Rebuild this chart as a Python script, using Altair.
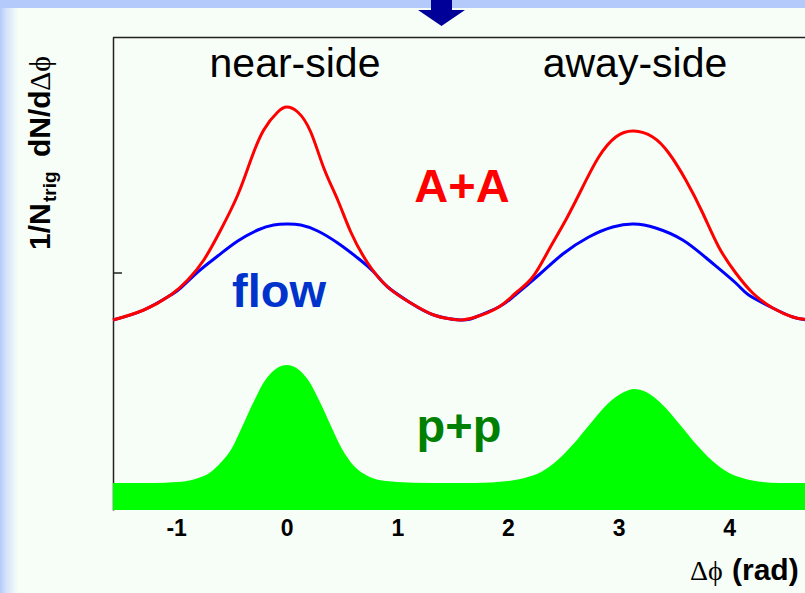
import altair as alt
import pandas as pd

# ---- data ----
red_x = [-1.571, -1.293, -1.049, -0.895, -0.750, -0.597, -0.443, -0.325, -0.208, -0.081, 0.0,
         0.099, 0.217, 0.335, 0.461, 0.579, 0.732, 0.913, 1.121, 1.329, 1.483, 1.571,
         1.709, 1.917, 2.071, 2.224, 2.369, 2.523, 2.676, 2.821, 2.975, 3.137, 3.309,
         3.454, 3.608, 3.761, 3.906, 4.060, 4.213, 4.394, 4.575, 4.665, 4.712]
red_y = [1.90, 2.00, 2.15, 2.30, 2.50, 2.80, 3.15, 3.50, 3.80, 3.98, 4.03,
         3.98, 3.78, 3.42, 3.10, 2.78, 2.47, 2.23, 2.07, 1.95, 1.91, 1.90,
         1.93, 2.03, 2.17, 2.33, 2.60, 2.90, 3.23, 3.53, 3.73, 3.79, 3.73,
         3.57, 3.30, 2.97, 2.63, 2.37, 2.17, 2.02, 1.93, 1.91, 1.90]

blue_x = [-1.571, -1.293, -1.049, -0.958, -0.805, -0.624, -0.443, -0.262, -0.118, 0.0,
          0.127, 0.280, 0.461, 0.642, 0.787, 0.913, 1.121, 1.329, 1.571,
          1.709, 1.917, 2.044, 2.279, 2.496, 2.731, 2.948, 3.137, 3.336, 3.580,
          3.815, 4.060, 4.177, 4.394, 4.575, 4.712]
blue_y = [1.90, 2.00, 2.15, 2.22, 2.38, 2.54, 2.69, 2.80, 2.85, 2.86,
          2.85, 2.79, 2.67, 2.52, 2.38, 2.23, 2.07, 1.95, 1.90,
          1.93, 2.03, 2.13, 2.35, 2.56, 2.73, 2.83, 2.86, 2.82, 2.70,
          2.50, 2.27, 2.15, 2.02, 1.93, 1.90]

pp_x = [-1.571, -1.2, -1.0, -0.9, -0.8, -0.7, -0.6, -0.5, -0.4, -0.3, -0.2, -0.1, 0.0,
        0.1, 0.2, 0.3, 0.4, 0.5, 0.6, 0.7, 0.8, 0.9, 1.0, 1.3, 1.7,
        2.0, 2.15, 2.3, 2.45, 2.6, 2.75, 2.9, 3.05, 3.14, 3.25, 3.4, 3.55, 3.7,
        3.85, 4.0, 4.15, 4.3, 4.45, 4.712]
pp_y = [0.27, 0.27, 0.28, 0.29, 0.32, 0.37, 0.47, 0.61, 0.84, 1.08, 1.29, 1.41, 1.45,
        1.41, 1.29, 1.08, 0.84, 0.61, 0.45, 0.36, 0.31, 0.29, 0.28, 0.27, 0.27,
        0.29, 0.32, 0.38, 0.50, 0.67, 0.87, 1.06, 1.18, 1.21, 1.18, 1.05, 0.86, 0.66,
        0.49, 0.37, 0.31, 0.28, 0.27, 0.27]

x_ticks = [-1, 0, 1, 2, 3, 4]
y_ticks = [2.37]

red_df = pd.DataFrame({"x": red_x, "y": red_y})
blue_df = pd.DataFrame({"x": blue_x, "y": blue_y})
pp_df = pd.DataFrame({"x": pp_x, "y": pp_y})
ytick_df = pd.DataFrame({"y": y_ticks})
one = pd.DataFrame({"k": [0]})

W, H = 692, 473
PANEL = "#F7FEF7"
BAND = "#B3CAFB"

xs = alt.Scale(domain=[-1.5708, 4.686], nice=False, zero=False)
ys = alt.Scale(domain=[0, 4.73], nice=False, zero=False)

xaxis = alt.Axis(values=x_ticks, labelExpr="'' + datum.value", domain=False, ticks=False,
                 grid=False, title=None, labelFont="Liberation Sans", labelFontWeight="bold",
                 labelFontSize=23, labelColor="black", labelPadding=7)
yaxis = alt.Axis(values=y_ticks, domain=True, domainColor="#222222", domainWidth=1.5,
                 ticks=False, labels=False, grid=False, title=None)

# decorations (slide background)
top_band = alt.Chart(one).mark_rect(color=BAND).encode(
    x=alt.value(-113), x2=alt.value(W), y=alt.value(-37), y2=alt.value(-29))
left_band = alt.Chart(one).mark_rect(
    color=alt.Gradient(gradient="linear",
                       stops=[alt.GradientStop(color=BAND, offset=0),
                              alt.GradientStop(color="#D4E2FB", offset=0.35),
                              alt.GradientStop(color=PANEL, offset=1)],
                       x1=0, x2=1, y1=0, y2=0)
).encode(x=alt.value(-113), x2=alt.value(-95), y=alt.value(-29), y2=alt.value(H + 83))

arrow_path = "M-0.447,-0.553 L0.447,-0.553 L0.447,-0.128 L1,-0.128 L0,0.553 L-1,-0.128 L-0.447,-0.128 Z"
arrow = alt.Chart(one).mark_point(shape=arrow_path, size=2209, filled=True, opacity=1,
                                  color="#000099", strokeWidth=0).encode(
    x=alt.value(328.5), y=alt.value(-24))

top_frame = alt.Chart(one).mark_rule(color="#222222", strokeWidth=1.5).encode(
    x=alt.value(0), x2=alt.value(W), y=alt.value(0.5))

ytick = alt.Chart(ytick_df).mark_rule(color="#222222", strokeWidth=1.5).encode(
    y=alt.Y("y:Q", scale=ys, axis=yaxis), x=alt.value(0), x2=alt.value(9))

pp_area = alt.Chart(pp_df).mark_area(color="#00FF00", interpolate="monotone", opacity=1).encode(
    x=alt.X("x:Q", scale=xs, axis=xaxis), y=alt.Y("y:Q", scale=ys, axis=yaxis))
blue_line = alt.Chart(blue_df).mark_line(color="#0000FF", strokeWidth=3, interpolate="natural").encode(
    x=alt.X("x:Q", scale=xs), y=alt.Y("y:Q", scale=ys))
red_line = alt.Chart(red_df).mark_line(color="#FF0000", strokeWidth=3, interpolate="natural").encode(
    x=alt.X("x:Q", scale=xs), y=alt.Y("y:Q", scale=ys))


def txt(s, x, y, size, color="black", weight="normal", font="Liberation Sans",
        align="center", angle=0):
    return alt.Chart(one).mark_text(text=s, font=font, fontSize=size, fontWeight=weight,
                                    color=color, align=align, baseline="alphabetic",
                                    angle=angle).encode(x=alt.value(x), y=alt.value(y))


SERIF = "Liberation Serif"
labels = [
    txt("near-side", 182, 40, 41),
    txt("away-side", 522, 40, 41),
    txt("A+A", 349, 165, 47, "#FF0000", "bold"),
    txt("flow", 166, 270, 47, "#0033CC", "bold"),
    txt("p+p", 346, 405, 47, "#008000", "bold"),
    # y title (rotated, with subscript)
    txt("1/N", -63, 213, 30, "black", "bold", align="left", angle=270),
    txt("trig", -57, 165, 19, "black", "bold", align="left", angle=270),
    txt("dN/d", -63, 120, 30, "black", "bold", align="left", angle=270),
    txt("Δϕ", -63, 54, 30, "black", "normal", SERIF, align="left", angle=270),
    # x title
    txt("Δϕ", 577, 543, 28, "black", "normal", SERIF, align="left"),
    txt("(rad)", 619, 543, 30, "black", "bold", align="left"),
]

chart = alt.layer(
    top_band, left_band, arrow, top_frame, ytick, pp_area, blue_line, red_line, *labels
).properties(
    width=W, height=H,
    autosize=alt.AutoSizeParams(type="none"),
    padding={"left": 113, "top": 37, "right": 0, "bottom": 83},
    background=PANEL,
).configure_view(stroke=None)

chart.save("out.html", embed_options={"renderer": "svg", "actions": False})
